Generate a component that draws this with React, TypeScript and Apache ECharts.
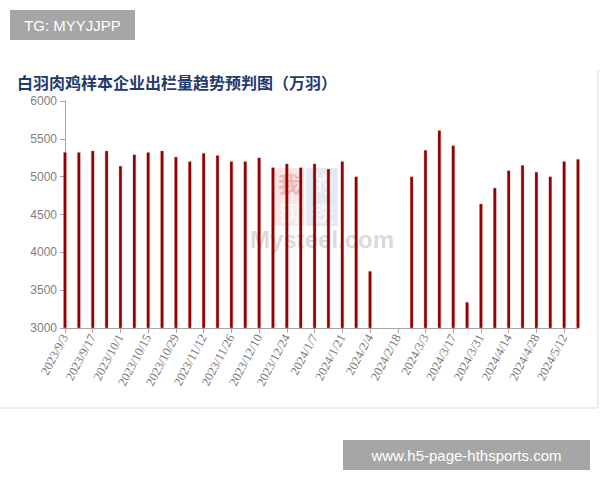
import React, { useEffect, useRef } from "react";
import * as echarts from "echarts";

const titleText = "白羽肉鸡样本企业出栏量趋势预判图（万羽）";

const categories: string[] = [
  "2023/9/3", "2023/9/10", "2023/9/17", "2023/9/24",
  "2023/10/1", "2023/10/8", "2023/10/15", "2023/10/22", "2023/10/29",
  "2023/11/5", "2023/11/12", "2023/11/19", "2023/11/26",
  "2023/12/3", "2023/12/10", "2023/12/17", "2023/12/24", "2023/12/31",
  "2024/1/7", "2024/1/14", "2024/1/21", "2024/1/28",
  "2024/2/4", "2024/2/11", "2024/2/18", "2024/2/25",
  "2024/3/3", "2024/3/10", "2024/3/17", "2024/3/24", "2024/3/31",
  "2024/4/7", "2024/4/14", "2024/4/21", "2024/4/28",
  "2024/5/5", "2024/5/12", "2024/5/19",
];

const slaughterVolume: (number | null)[] = [
  5320, 5320, 5340, 5340,
  5140, 5290, 5320, 5340, 5260,
  5200, 5310, 5280, 5200,
  5200, 5250, 5120, 5170, 5120,
  5170, 5100, 5200, 5000,
  3750, null, null, 5000,
  5350, 5610, 5410, 3340, 4640,
  4850, 5080, 5150, 5060,
  5000, 5200, 5230,
];

const yMin = 3000;
const yMax = 6000;
const yInterval = 500;

const topBadge = "TG: MYYJJPP";
const bottomBadge = "www.h5-page-hthsports.com";

export default function App() {
  const ref = useRef<HTMLDivElement>(null);

  useEffect(() => {
    if (!ref.current) return;
    const chart = echarts.init(ref.current, undefined, { renderer: "svg" });
    const axisGray = "#a6a6a6";
    const labelGray = "#808080";
    const baseData = slaughterVolume.map((v) => (v == null ? null : yMin));
    const riseData = slaughterVolume.map((v) => (v == null ? null : v - yMin));
    const wmChar = (ch: string, left: number, top: number, fill: string) => ({
      type: "text",
      silent: true,
      left,
      top,
      style: { text: ch, font: "bold 22px 'Noto Sans CJK SC'", lineHeight: 22, fill },
      z: 2,
    });
    chart.setOption({
      animation: false,
      backgroundColor: "#ffffff",
      title: {
        text: titleText,
        left: 17,
        top: 74,
        padding: 0,
        textStyle: {
          fontFamily: "Noto Sans CJK SC",
          fontSize: 16,
          fontWeight: "bold",
          color: "#1f3a6b",
          lineHeight: 16,
        },
      },
      grid: { left: 65, right: 22, top: 101, bottom: 152, containLabel: false },
      xAxis: {
        type: "category",
        data: categories,
        boundaryGap: false,
        axisLine: { show: true, lineStyle: { color: axisGray, width: 1 } },
        axisTick: { show: true, interval: 1, length: 5, lineStyle: { color: axisGray } },
        axisLabel: {
          interval: 1,
          rotate: 62,
          margin: 7,
          fontFamily: "Liberation Serif",
          fontSize: 12.5,
          color: "#777777",
        },
        splitLine: { show: false },
      },
      yAxis: {
        type: "value",
        min: yMin,
        max: yMax,
        interval: yInterval,
        axisLine: { show: true, lineStyle: { color: axisGray, width: 1 } },
        axisTick: { show: true, length: 5, lineStyle: { color: axisGray } },
        axisLabel: {
          margin: 8,
          fontFamily: "Liberation Sans",
          fontSize: 12,
          lineHeight: 12,
          color: labelGray,
          formatter: (v: number) => String(v),
        },
        splitLine: { show: false },
      },
      series: [
        {
          type: "bar",
          stack: "v",
          data: baseData,
          barWidth: 3,
          clip: false,
          silent: true,
          z: 5,
          itemStyle: { color: "rgba(0,0,0,0)" },
        },
        {
          type: "bar",
          stack: "v",
          data: riseData,
          barWidth: 3,
          clip: false,
          z: 5,
          itemStyle: { color: "#8f0000", borderColor: "#c03030", borderWidth: 0.3 },
        },
      ],
      graphic: [
        {
          type: "polyline",
          silent: true,
          shape: { points: [[0, 408], [598, 408], [598, 70]] },
          style: { stroke: "#dcdcdc", lineWidth: 1, fill: "none" },
          z: 0,
        },
        {
          type: "rect",
          silent: true,
          shape: { x: 274, y: 168, width: 30, height: 58 },
          style: { fill: "rgba(235,120,120,0.18)" },
          z: 1,
        },
        {
          type: "rect",
          silent: true,
          shape: { x: 306, y: 168, width: 32, height: 58 },
          style: { fill: "rgba(120,145,200,0.2)" },
          z: 1,
        },
        wmChar("我", 278, 171, "rgba(220,60,60,0.3)"),
        wmChar("的", 311, 171, "rgba(255,255,255,0.75)"),
        wmChar("钢", 278, 200, "rgba(255,255,255,0.75)"),
        wmChar("铁", 311, 200, "rgba(255,255,255,0.75)"),
        {
          type: "text",
          silent: true,
          left: 250,
          top: 227,
          style: { text: "Mysteel.com", font: "bold 24px 'Liberation Sans'", fill: "rgba(150,150,150,0.35)" },
          z: 2,
        },
        {
          type: "rect",
          silent: true,
          shape: { x: 10, y: 10, width: 125, height: 30 },
          style: { fill: "#a6a6a6" },
          z: 100,
        },
        {
          type: "text",
          silent: true,
          x: 72.5,
          y: 25,
          style: {
            text: topBadge,
            font: "15px 'Liberation Sans'",
            fill: "#ffffff",
            align: "center",
            verticalAlign: "middle",
          },
          z: 101,
        },
        {
          type: "rect",
          silent: true,
          shape: { x: 343, y: 440, width: 247, height: 30 },
          style: { fill: "#a6a6a6" },
          z: 100,
        },
        {
          type: "text",
          silent: true,
          x: 466.5,
          y: 455,
          style: {
            text: bottomBadge,
            font: "15px 'Liberation Sans'",
            fill: "#ffffff",
            align: "center",
            verticalAlign: "middle",
          },
          z: 101,
        },
      ],
    });
    return () => {
      chart.dispose();
    };
  }, []);

  return (
    <div
      ref={ref}
      style={{ position: "fixed", left: 0, top: 0, width: 600, height: 480 }}
    />
  );
}
